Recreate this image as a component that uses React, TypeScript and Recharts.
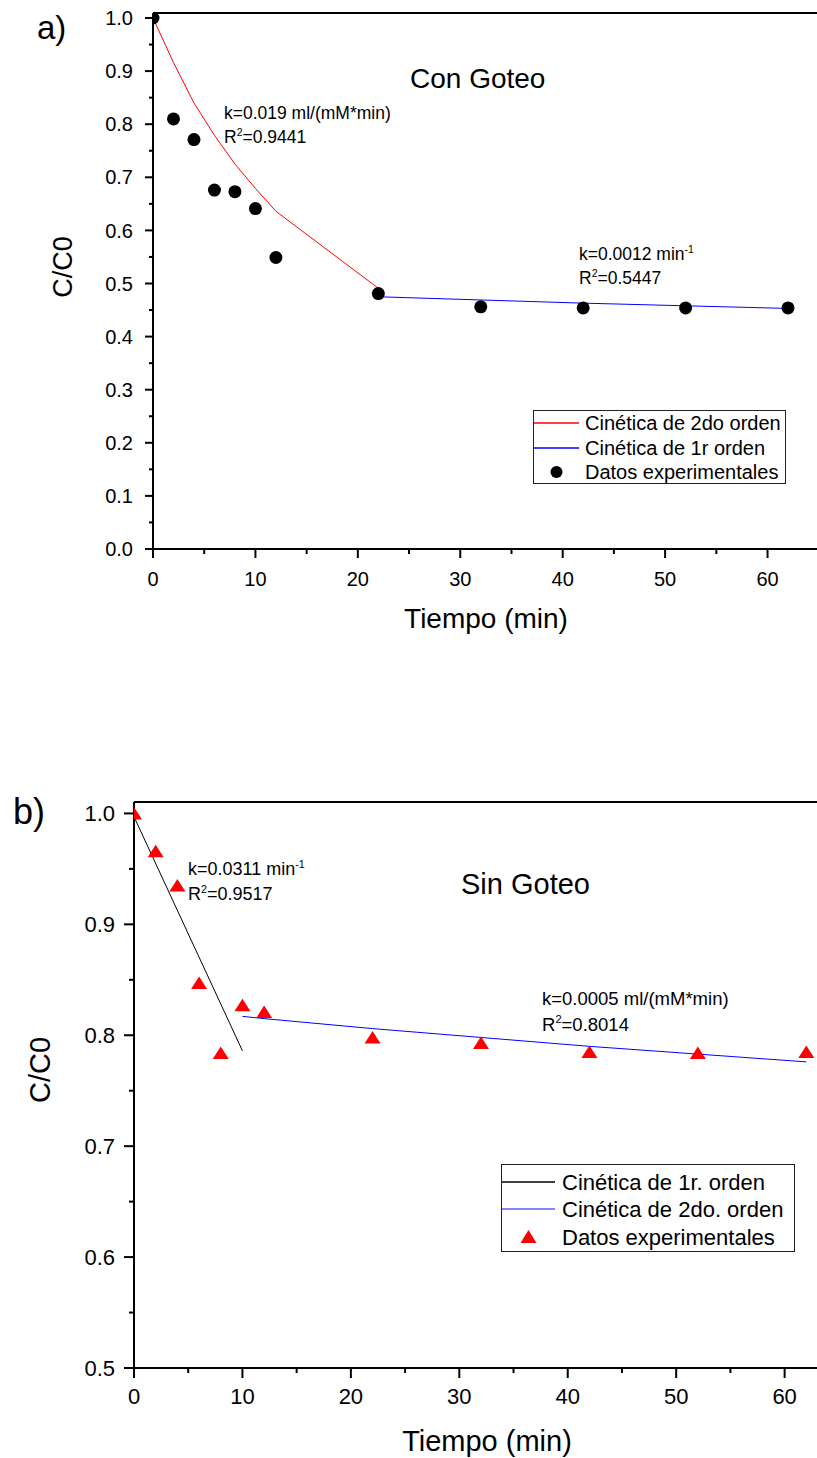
import React from "react";
import { ComposedChart, Line, Scatter, XAxis, YAxis, ReferenceLine } from "recharts";

const FONT = '"Liberation Sans", Arial, Helvetica, sans-serif';

// a) Con goteo
const conTime = [0, 2, 4, 6, 8, 10, 12, 22, 32, 42, 52, 62];
const conRatio = [1.0, 0.81, 0.771, 0.676, 0.673, 0.641, 0.549, 0.481, 0.456, 0.454, 0.454, 0.454];
const conFit2Time = [0, 2, 4, 6, 8, 10, 12, 22];
const conFit2 = [1.0, 0.916, 0.84, 0.779, 0.725, 0.679, 0.636, 0.491];
const conFit1Time = [22, 32, 42, 52, 62];
const conFit1 = [0.475, 0.469, 0.463, 0.458, 0.453];

// b) Sin goteo
const sinTime = [0, 2, 4, 6, 8, 10, 12, 22, 32, 42, 52, 62];
const sinRatio = [1.0, 0.966, 0.935, 0.847, 0.784, 0.827, 0.821, 0.798, 0.793, 0.785, 0.784, 0.785];
const sinFit1Time = [0, 10];
const sinFit1 = [0.997, 0.786];
const sinFit2Time = [10, 12, 22, 32, 42, 52, 62];
const sinFit2 = [0.817, 0.815, 0.806, 0.798, 0.79, 0.783, 0.776];

// axis ticks
const conYMajor = [0, 0.1, 0.2, 0.3, 0.4, 0.5, 0.6, 0.7, 0.8, 0.9, 1.0];
const conYLabels = ["0.0", "0.1", "0.2", "0.3", "0.4", "0.5", "0.6", "0.7", "0.8", "0.9", "1.0"];
const conYMinor = [0.05, 0.15, 0.25, 0.35, 0.45, 0.55, 0.65, 0.75, 0.85, 0.95];
const sinYMajor = [0.5, 0.6, 0.7, 0.8, 0.9, 1.0];
const sinYLabels = ["0.5", "0.6", "0.7", "0.8", "0.9", "1.0"];
const sinYMinor = [0.55, 0.65, 0.75, 0.85, 0.95];
const xMajor = [0, 10, 20, 30, 40, 50, 60];
const xLabels = ["0", "10", "20", "30", "40", "50", "60"];
const xMinor = [5, 15, 25, 35, 45, 55, 65];

const conLegend = [
  { name: "Cinética de 2do orden", color: "#ff0000", kind: "line" },
  { name: "Cinética de 1r orden", color: "#0000ff", kind: "line" },
  { name: "Datos experimentales", color: "#000000", kind: "dot" },
];
const sinLegend = [
  { name: "Cinética de 1r. orden", color: "#000000", kind: "line" },
  { name: "Cinética de 2do. orden", color: "#5b5bff", kind: "line" },
  { name: "Datos experimentales", color: "#ff0000", kind: "triangle" },
];

const pts = (xs: number[], ys: number[]) => xs.map((x, i) => ({ x, y: ys[i] }));
const sorted = (a: number[], b: number[]) => [...a, ...b].sort((p, q) => p - q);
const indexOf = (v: number, list: number[]) => list.findIndex((m) => Math.abs(m - v) < 1e-6);

type TickCfg = { major: number; minor: number; gap: number; fs: number };

function yTick(majors: number[], labels: string[], cfg: TickCfg) {
  return (p: any) => {
    const i = indexOf(p.payload.value, majors);
    const len = i >= 0 ? cfg.major : cfg.minor;
    return (
      <g>
        <line x1={p.x} x2={p.x - len} y1={p.y} y2={p.y} stroke="#000" strokeWidth={2} />
        {i >= 0 && (
          <text x={p.x - cfg.gap} y={p.y} dy="0.36em" textAnchor="end" fontSize={cfg.fs} fontFamily={FONT} fill="#000">
            {labels[i]}
          </text>
        )}
      </g>
    );
  };
}

function xTick(majors: number[], labels: string[], cfg: TickCfg) {
  return (p: any) => {
    const i = indexOf(p.payload.value, majors);
    const len = i >= 0 ? cfg.major : cfg.minor;
    return (
      <g>
        <line x1={p.x} x2={p.x} y1={p.y} y2={p.y + len} stroke="#000" strokeWidth={2} />
        {i >= 0 && (
          <text x={p.x} y={p.y + cfg.gap} textAnchor="middle" fontSize={cfg.fs} fontFamily={FONT} fill="#000">
            {labels[i]}
          </text>
        )}
      </g>
    );
  };
}

const dot = (p: any) => <circle cx={p.cx} cy={p.cy} r={6.5} fill="#000" />;
const triangle = (p: any) => (
  <polygon
    points={`${p.cx},${p.cy - 6.5} ${p.cx - 8},${p.cy + 6} ${p.cx + 8},${p.cy + 6}`}
    fill="#ff0000"
  />
);

function ChartA() {
  return (
    <ComposedChart width={839} height={640} margin={{ top: 13, right: 10, bottom: 51, left: 0 }}>
      <XAxis
        type="number"
        dataKey="x"
        domain={[0, 66]}
        allowDataOverflow
        ticks={sorted(xMajor, xMinor)}
        interval={0}
        height={40}
        tickSize={0}
        tickMargin={0}
        tickLine={false}
        axisLine={{ stroke: "#000", strokeWidth: 2 }}
        tick={xTick(xMajor, xLabels, { major: 9, minor: 5, gap: 37, fs: 20 })}
      />
      <YAxis
        type="number"
        dataKey="y"
        domain={[0, 1.0094]}
        allowDataOverflow
        ticks={sorted(conYMajor, conYMinor)}
        interval={0}
        width={153}
        tickSize={0}
        tickMargin={0}
        tickLine={false}
        axisLine={{ stroke: "#000", strokeWidth: 2 }}
        tick={yTick(conYMajor, conYLabels, { major: 8, minor: 4, gap: 20, fs: 20 })}
      />
      <ReferenceLine y={1.0094} stroke="#000" strokeWidth={2} />
      <Line data={pts(conFit2Time, conFit2)} dataKey="y" type="linear" stroke="#ff0000" strokeWidth={1} dot={false} isAnimationActive={false} />
      <Line data={pts(conFit1Time, conFit1)} dataKey="y" type="linear" stroke="#0000ff" strokeWidth={1} dot={false} isAnimationActive={false} />
      <Scatter data={pts(conTime, conRatio)} fill="#000" shape={dot} isAnimationActive={false} />
    </ComposedChart>
  );
}

function ChartB() {
  return (
    <ComposedChart width={838} height={678} margin={{ top: 22, right: 10, bottom: 50, left: 0 }}>
      <XAxis
        type="number"
        dataKey="x"
        domain={[0, 64]}
        allowDataOverflow
        ticks={sorted(xMajor, xMinor)}
        interval={0}
        height={40}
        tickSize={0}
        tickMargin={0}
        tickLine={false}
        axisLine={{ stroke: "#000", strokeWidth: 2 }}
        tick={xTick(xMajor, xLabels, { major: 10, minor: 5, gap: 36, fs: 22 })}
      />
      <YAxis
        type="number"
        dataKey="y"
        domain={[0.5, 1.0103]}
        allowDataOverflow
        ticks={sorted(sinYMajor, sinYMinor)}
        interval={0}
        width={134}
        tickSize={0}
        tickMargin={0}
        tickLine={false}
        axisLine={{ stroke: "#000", strokeWidth: 2 }}
        tick={yTick(sinYMajor, sinYLabels, { major: 10, minor: 5, gap: 19, fs: 22 })}
      />
      <ReferenceLine y={1.0103} stroke="#000" strokeWidth={2} />
      <Line data={pts(sinFit1Time, sinFit1)} dataKey="y" type="linear" stroke="#000000" strokeWidth={1} dot={false} isAnimationActive={false} />
      <Line data={pts(sinFit2Time, sinFit2)} dataKey="y" type="linear" stroke="#0000ff" strokeWidth={1} dot={false} isAnimationActive={false} />
      <Scatter data={pts(sinTime, sinRatio)} fill="#ff0000" shape={triangle} isAnimationActive={false} />
    </ComposedChart>
  );
}

// k / R² annotation: two lines with superscripts
function FitNote({ x, y, fs, k, kSup, r2 }: { x: number; y: number; fs: number; k: string; kSup?: string; r2: string }) {
  const s = fs * 0.6;
  const up = fs * 0.4;
  return (
    <g fontFamily={FONT} fontSize={fs} fill="#000">
      <text x={x} y={y}>
        {k}
        {kSup && (
          <tspan fontSize={s} dy={-up}>
            {kSup}
          </tspan>
        )}
      </text>
      <text x={x} y={y + fs * 1.38}>
        R
        <tspan fontSize={s} dy={-up}>
          2
        </tspan>
        <tspan dy={up}>={r2}</tspan>
      </text>
    </g>
  );
}

type LegendItem = { name: string; color: string; kind: string };

function LegendBox({ x, y, w, h, rowY, lineW, textX, fs, items }: {
  x: number; y: number; w: number; h: number; rowY: number[]; lineW: number; textX: number; fs: number; items: LegendItem[];
}) {
  return (
    <g fontFamily={FONT}>
      <rect x={x + 0.5} y={y + 0.5} width={w} height={h} fill="#fff" stroke="#222" strokeWidth={1} />
      {items.map((it, i) => {
        const cy = rowY[i];
        const cx = x + 1 + lineW / 2;
        return (
          <g key={it.name}>
            {it.kind === "line" && <line x1={x + 1} x2={x + 1 + lineW} y1={cy} y2={cy} stroke={it.color} strokeWidth={1.5} />}
            {it.kind === "dot" && <circle cx={cx} cy={cy} r={6} fill={it.color} />}
            {it.kind === "triangle" && (
              <polygon points={`${cx},${cy - 7} ${cx - 8},${cy + 6} ${cx + 8},${cy + 6}`} fill={it.color} />
            )}
            <text x={textX} y={cy} dy="0.36em" fontSize={fs} fill="#000">
              {it.name}
            </text>
          </g>
        );
      })}
    </g>
  );
}

export default function App() {
  return (
    <div
      style={{
        position: "absolute",
        left: 0,
        top: 0,
        width: 817,
        height: 1458,
        overflow: "hidden",
        background: "#fff",
        fontFamily: FONT,
      }}
    >
      <div style={{ position: "absolute", left: 0, top: 0 }}>
        <ChartA />
      </div>
      <div style={{ position: "absolute", left: 0, top: 780 }}>
        <ChartB />
      </div>
      <svg width={817} height={1458} style={{ position: "absolute", left: 0, top: 0, pointerEvents: "none" }}>
        <g fontFamily={FONT} fill="#000">
          <text x={37} y={39} fontSize={33}>a)</text>
          <text x={13} y={824} fontSize={36}>b)</text>

          <text transform="translate(72,267) rotate(-90)" textAnchor="middle" fontSize={27}>C/C0</text>
          <text transform="translate(50,1070) rotate(-90)" textAnchor="middle" fontSize={29}>C/C0</text>

          <text x={486} y={628} textAnchor="middle" fontSize={28}>Tiempo (min)</text>
          <text x={487} y={1451} textAnchor="middle" fontSize={29}>Tiempo (min)</text>

          <text x={410} y={88} fontSize={28}>Con Goteo</text>
          <text x={461} y={894} fontSize={29}>Sin Goteo</text>
        </g>

        <FitNote x={224} y={119} fs={17.5} k="k=0.019 ml/(mM*min)" r2="0.9441" />
        <FitNote x={579} y={260} fs={17.5} k="k=0.0012 min" kSup="-1" r2="0.5447" />
        <FitNote x={188} y={875} fs={18} k="k=0.0311 min" kSup="-1" r2="0.9517" />
        <FitNote x={542} y={1005} fs={18.5} k="k=0.0005 ml/(mM*min)" r2="0.8014" />

        <LegendBox x={533} y={410} w={252} h={73} rowY={[423, 448, 472]} lineW={45} textX={585} fs={20} items={conLegend} />
        <LegendBox x={501} y={1164} w={293} h={87} rowY={[1182, 1209, 1237]} lineW={53} textX={562} fs={22} items={sinLegend} />
      </svg>
    </div>
  );
}
